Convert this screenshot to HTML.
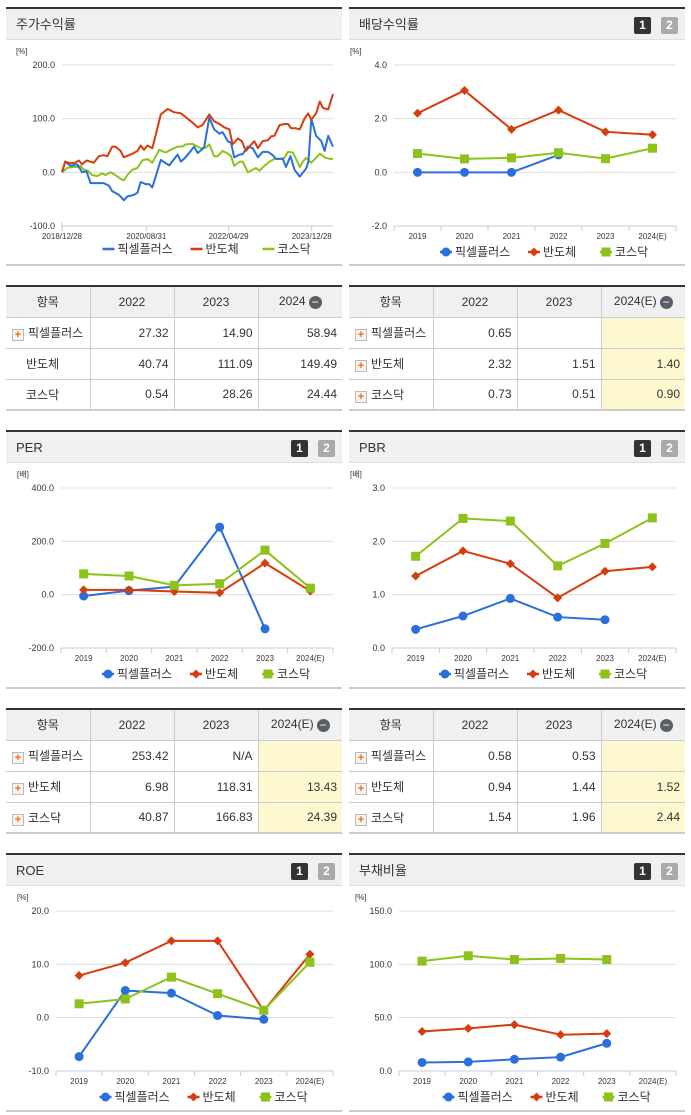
<!DOCTYPE html>
<html><head><meta charset="utf-8">
<style>
*{margin:0;padding:0;box-sizing:border-box}
body{width:691px;height:1115px;background:#fff;position:relative;overflow:hidden;font-family:"Liberation Sans","Noto Sans CJK KR",sans-serif;color:#333}
.panel{position:absolute;width:336px;height:259px;border-top:2px solid #333;border-bottom:2px solid #ccc}
.hdr{height:31px;background:#f0f0f0;border-bottom:1px solid #ddd;font-size:13px;line-height:31px;padding-left:10px;position:relative}
.badge{position:absolute;top:8px;width:17px;height:17px;font-size:12px;font-weight:bold;color:#fff;text-align:center;line-height:17px;border-radius:2px}
.b1{background:#333;right:34px}.b2{background:#aaa;right:7px}
svg{position:absolute;left:0;top:0}
table{position:absolute;width:336px;table-layout:fixed;border-collapse:collapse;border-top:2px solid #333;border-bottom:2px solid #ccc;font-size:12px}
col{width:84px}
th{background:#f0f0f0;height:31px;font-weight:normal;border-left:1px solid #ccc;border-bottom:1px solid #ccc}
td{height:31px;border-left:1px solid #ccc;border-top:1px solid #ccc;text-align:right;padding-right:5px}
th:first-child,td:first-child{border-left:none}
td.n{text-align:left;padding-left:6px}
td.y{background:#fdf8cf}
.plus{display:inline-block;width:12px;height:12px;border:1px solid #bbb;background:#f4f4f4;color:#f60;font-size:11px;font-weight:bold;line-height:10px;text-align:center;margin-right:4px;vertical-align:-1px}
.minus{display:inline-block;width:13px;height:13px;border-radius:50%;background:#5a5f66;color:#fff;line-height:12px;font-size:12px;text-align:center;margin-left:3px;vertical-align:-1px}
</style></head><body>

<div class="panel" style="left:6px;top:7px"><div class="hdr">주가수익률</div></div>
<div class="panel" style="left:349px;top:7px"><div class="hdr">배당수익률<span class="badge b1">1</span><span class="badge b2">2</span></div></div>
<div class="panel" style="left:6px;top:430px"><div class="hdr">PER<span class="badge b1">1</span><span class="badge b2">2</span></div></div>
<div class="panel" style="left:349px;top:430px"><div class="hdr">PBR<span class="badge b1">1</span><span class="badge b2">2</span></div></div>
<div class="panel" style="left:6px;top:853px"><div class="hdr">ROE<span class="badge b1">1</span><span class="badge b2">2</span></div></div>
<div class="panel" style="left:349px;top:853px"><div class="hdr">부채비율<span class="badge b1">1</span><span class="badge b2">2</span></div></div>

<table style="left:6px;top:285px">
<colgroup><col><col><col><col></colgroup>
<tr><th>항목</th><th>2022</th><th>2023</th><th>2024<span class="minus">−</span></th></tr>
<tr><td class="n"><span class="plus">+</span>픽셀플러스</td><td>27.32</td><td>14.90</td><td>58.94</td></tr>
<tr><td class="n" style="padding-left:20px">반도체</td><td>40.74</td><td>111.09</td><td>149.49</td></tr>
<tr><td class="n" style="padding-left:20px">코스닥</td><td>0.54</td><td>28.26</td><td>24.44</td></tr>
</table>
<table style="left:349px;top:285px">
<colgroup><col><col><col><col></colgroup>
<tr><th>항목</th><th>2022</th><th>2023</th><th>2024(E)<span class="minus">−</span></th></tr>
<tr><td class="n"><span class="plus">+</span>픽셀플러스</td><td>0.65</td><td></td><td class="y"></td></tr>
<tr><td class="n"><span class="plus">+</span>반도체</td><td>2.32</td><td>1.51</td><td class="y">1.40</td></tr>
<tr><td class="n"><span class="plus">+</span>코스닥</td><td>0.73</td><td>0.51</td><td class="y">0.90</td></tr>
</table>
<table style="left:6px;top:708px">
<colgroup><col><col><col><col></colgroup>
<tr><th>항목</th><th>2022</th><th>2023</th><th>2024(E)<span class="minus">−</span></th></tr>
<tr><td class="n"><span class="plus">+</span>픽셀플러스</td><td>253.42</td><td>N/A</td><td class="y"></td></tr>
<tr><td class="n"><span class="plus">+</span>반도체</td><td>6.98</td><td>118.31</td><td class="y">13.43</td></tr>
<tr><td class="n"><span class="plus">+</span>코스닥</td><td>40.87</td><td>166.83</td><td class="y">24.39</td></tr>
</table>
<table style="left:349px;top:708px">
<colgroup><col><col><col><col></colgroup>
<tr><th>항목</th><th>2022</th><th>2023</th><th>2024(E)<span class="minus">−</span></th></tr>
<tr><td class="n"><span class="plus">+</span>픽셀플러스</td><td>0.58</td><td>0.53</td><td class="y"></td></tr>
<tr><td class="n"><span class="plus">+</span>반도체</td><td>0.94</td><td>1.44</td><td class="y">1.52</td></tr>
<tr><td class="n"><span class="plus">+</span>코스닥</td><td>1.54</td><td>1.96</td><td class="y">2.44</td></tr>
</table>

<svg id="charts" width="691" height="1115"></svg>

<script>
// ---- stock return (months since 2018/12/28, %)
const pxMonths=[0,0.8,2.1,3.8,5,6.1,7.1,8.8,10.4,11.7,12.5,14.2,15.4,16.3,17.9,18.8,19.6,20.8,21.7,22.5,24.6,26.7,28.8,29.6,30.8,32.9,33.8,35.4,36.7,37.9,39.2,40,41.3,42.1,42.9,44.2,45,46.3,47.5,48.8,50,51.3,52.5,53.3,55,55.8,56.9,57.9,59.2,60.8,61.4,62.1,63.3,64.6,65.4,66.3,67.5];
const pxReturn=[0,20,12,15,0,2,-20,-20,-20,-25,-35,-42,-52,-45,-42,-38,-18,-22,-22,-28,23,13,33,20,28,48,36,46,102,80,72,75,58,55,28,33,34,48,45,28,38,38,32,25,25,10,30,5,-8,7,20,100,68,58,40,68,48];
const semiMonths=[0,0.8,2.1,3.3,4.2,5,6.1,7.9,9.2,10.4,11.3,12.5,13.3,14.6,15.4,16.7,17.9,18.8,19.6,20.4,21.3,22.5,23.3,24.6,26.3,27.9,29.6,30.8,32.1,33.8,35,36.7,37.9,39.2,40.4,41.7,42.5,43.8,44.8,45.8,46.7,47.9,48.8,50,51.3,52.1,52.9,54.2,55.4,56.3,57.1,58.3,59.2,60.4,61.3,62.1,63.3,64.2,65,66.3,67.5];
const semiReturn=[0,20,17,18,22,15,22,18,30,32,30,48,48,40,28,32,36,40,50,42,50,45,68,108,118,112,110,103,95,84,88,108,95,90,84,80,52,63,58,40,48,58,45,58,60,67,68,88,90,90,82,82,80,100,110,98,110,132,120,117,146];
const kqMonths=[0,1.3,2.5,3.8,4.6,5.4,6.4,7.5,8.8,10,10.8,12.1,13.3,14.6,15.4,16.3,17.5,18.8,20,21.3,22.5,24.2,25.8,27.1,28.8,30,30.8,32.5,33.3,34.6,35.8,36.7,37.9,38.8,40,41.3,42.1,42.9,44.2,45,46.3,47.5,48.3,49.2,50.4,51.7,52.9,54.2,55.4,56.3,57.5,58.3,59.2,60,60.8,62.1,63.3,64.2,65.4,66.7,67.5];
const kqReturn=[0,8,10,10,12,5,3,-5,-7,-2,-5,0,-5,-12,-15,-5,5,8,22,25,18,42,37,42,48,48,52,53,50,45,46,52,30,30,40,35,30,12,20,20,0,5,8,3,12,20,25,25,27,38,37,25,10,20,27,18,27,35,28,25,25];
const stockTickMonths=[0,21,41.5,62.2];
const stockTickLabels=["2018/12/28","2020/08/31","2022/04/29","2023/12/28"];
const stockYTicks=[200,100,0,-100];

// ---- annual charts
const years=["2019","2020","2021","2022","2023","2024(E)"];
const divPixel=[0,0,0,0.65,null,null];
const divSemi=[2.2,3.05,1.6,2.32,1.51,1.40];
const divKosdaq=[0.7,0.5,0.54,0.73,0.51,0.90];
const divTicks=[4,2,0,-2];
const perPixel=[-5,15,30,253.42,-128,null];
const perSemi=[18,18,12,6.98,118.31,13.43];
const perKosdaq=[78,70,35,40.87,166.83,24.39];
const perTicks=[400,200,0,-200];
const pbrPixel=[0.35,0.6,0.93,0.58,0.53,null];
const pbrSemi=[1.35,1.82,1.58,0.94,1.44,1.52];
const pbrKosdaq=[1.72,2.43,2.38,1.54,1.96,2.44];
const pbrTicks=[3,2,1,0];
const roePixel=[-7.3,5.1,4.6,0.4,-0.3,null];
const roeSemi=[7.9,10.3,14.4,14.4,1.3,11.9];
const roeKosdaq=[2.6,3.5,7.6,4.5,1.4,10.4];
const roeTicks=[20,10,0,-10];
const debtPixel=[8,8.5,11,13,26,null];
const debtSemi=[37,40,43.5,34,35,null];
const debtKosdaq=[103,108,104.5,105.5,104.5,null];
const debtTicks=[150,100,50,0];

const NS="http://www.w3.org/2000/svg";
const svg=document.getElementById('charts');
const BLUE="#2a6fdb",RED="#d63c0c",GREEN="#8cc21a";
function el(tag,attrs,parent){const e=document.createElementNS(NS,tag);for(const k in attrs)e.setAttribute(k,attrs[k]);(parent||svg).appendChild(e);return e;}
function txt(x,y,s,size,anchor,parent,fill){const t=el('text',{x:x,y:y,'font-size':size,'text-anchor':anchor||'start',fill:fill||'#333','font-family':'Liberation Sans, Noto Sans CJK KR, sans-serif'},parent);t.textContent=s;return t;}

function frame(g,cfg){
  const yS=v=>cfg.yTop+(cfg.tMax-v)/(cfg.tMax-cfg.tMin)*(cfg.yBot-cfg.yTop);
  txt(cfg.x0-46+ (cfg.unitDx||0),cfg.yTop-11,cfg.unit,8,'start',g);
  cfg.ticks.forEach(t=>{
    const y=yS(t);
    const gl=el('line',{x1:cfg.x0,x2:cfg.x1,y1:y,y2:y,stroke:'#dcdcdc','stroke-width':1},g);
    
    
    const tl=txt(cfg.x0-7,y+3,t.toFixed(1),9,'end',g);
    
    
  });
  const ax=el('line',{x1:cfg.x0,x2:cfg.x1,y1:cfg.yBot,y2:cfg.yBot,stroke:'#c3cbdc','stroke-width':1},g);
  
  
  return yS;
}
function legend(g,cx,y,markers){
  const items=[["픽셀플러스",BLUE,"circle"],["반도체",RED,"diamond"],["코스닥",GREEN,"square"]];
  let x=cx-95;
  const w=[70,54,50];
  items.forEach((it,i)=>{
    const lg=el('g',{},g);
    
    
    el('line',{x1:x,x2:x+12,y1:y,y2:y,stroke:it[1],'stroke-width':2.5},lg);
    if(markers) mark(lg,it[2],x+6,y,it[1]);
    txt(x+15,y+4,it[0],12,'start',lg,'#333');
    x+=w[i]+18;
  });
}
function mark(g,shape,x,y,c){
  if(shape==='circle') return el('circle',{cx:x,cy:y,r:4.5,fill:c},g);
  if(shape==='diamond') return el('path',{d:`M${x} ${y-4.5}L${x+4.5} ${y}L${x} ${y+4.5}L${x-4.5} ${y}Z`,fill:c},g);
  return el('rect',{x:x-4.5,y:y-4.5,width:9,height:9,fill:c},g);
}
function annual(name,cfg,series){
  const g=el('g',{});
  
  
  const yS=frame(g,cfg);
  const step=(cfg.x1-cfg.x0)/years.length;
  const xS=i=>cfg.x0+step*(i+0.5);
  for(let i=0;i<=years.length;i++) el('line',{x1:cfg.x0+step*i,x2:cfg.x0+step*i,y1:cfg.yBot,y2:cfg.yBot+5,stroke:'#c3cbdc'},g);
  years.forEach((yr,i)=>{const t=txt(xS(i),cfg.yBot+13,yr,8,'middle',g);});
  series.forEach(s=>{
    let d='';s.data.forEach((v,i)=>{if(v==null)return;d+=(d?'L':'M')+xS(i)+' '+yS(v);});
    const p=el('path',{d:d,fill:'none',stroke:s.c,'stroke-width':2},g);
    
    
    s.data.forEach((v,i)=>{if(v==null)return;const m=mark(g,s.shape,xS(i),yS(v),s.c);
      
      });
  });
  legend(g,(cfg.x0+cfg.x1)/2,cfg.yBot+26,true);
}
function trio(p,s,k){return [{data:p,c:BLUE,shape:'circle',n:'pixelplus'},{data:s,c:RED,shape:'diamond',n:'semiconductor'},{data:k,c:GREEN,shape:'square',n:'kosdaq'}];}

// stock chart
(function(){
  const cfg={x0:62,x1:333,yTop:65,yBot:226,tMax:200,tMin:-100,ticks:stockYTicks,unit:'[%]',unitDx:0};
  const g=el('g',{});
  
  
  const yS=frame(g,cfg);
  const xS=m=>cfg.x0+m*(cfg.x1-cfg.x0)/67.5;
  stockTickMonths.forEach((m,i)=>{
    el('line',{x1:xS(m),x2:xS(m),y1:cfg.yBot,y2:cfg.yBot+5,stroke:'#c3cbdc'},g);
    const t=txt(xS(m),cfg.yBot+13,stockTickLabels[i],8,'middle',g);
    
    
  });
  el('line',{x1:cfg.x0,x2:cfg.x0,y1:cfg.yBot-4,y2:cfg.yBot+5,stroke:'#c3cbdc'},g);
  [[kqMonths,kqReturn,GREEN,'kosdaq'],[pxMonths,pxReturn,BLUE,'pixelplus'],[semiMonths,semiReturn,RED,'semiconductor']].forEach(s=>{
    const d=s[0].map((m,i)=>(i?'L':'M')+xS(m).toFixed(1)+' '+yS(s[1][i]).toFixed(1)).join('');
    const p=el('path',{d:d,fill:'none',stroke:s[2],'stroke-width':2,'stroke-linejoin':'round'},g);
    
    
  });
  legend(g,(cfg.x0+cfg.x1)/2,cfg.yBot+23,false);
})();

annual('dividend-yield-chart',{x0:394,x1:676,yTop:65,yBot:226,tMax:4,tMin:-2,ticks:divTicks,unit:'[%]',unitDx:2},trio(divPixel,divSemi,divKosdaq));
annual('per-chart',{x0:61,x1:333,yTop:488,yBot:648,tMax:400,tMin:-200,ticks:perTicks,unit:'[배]',unitDx:2},trio(perPixel,perSemi,perKosdaq));
annual('pbr-chart',{x0:392,x1:676,yTop:488,yBot:648,tMax:3,tMin:0,ticks:pbrTicks,unit:'[배]',unitDx:4},trio(pbrPixel,pbrSemi,pbrKosdaq));
annual('roe-chart',{x0:56,x1:333,yTop:911,yBot:1071,tMax:20,tMin:-10,ticks:roeTicks,unit:'[%]',unitDx:7},trio(roePixel,roeSemi,roeKosdaq));
annual('debt-ratio-chart',{x0:399,x1:676,yTop:911,yBot:1071,tMax:150,tMin:0,ticks:debtTicks,unit:'[%]',unitDx:2},trio(debtPixel,debtSemi,debtKosdaq));
</script>
</body></html>
